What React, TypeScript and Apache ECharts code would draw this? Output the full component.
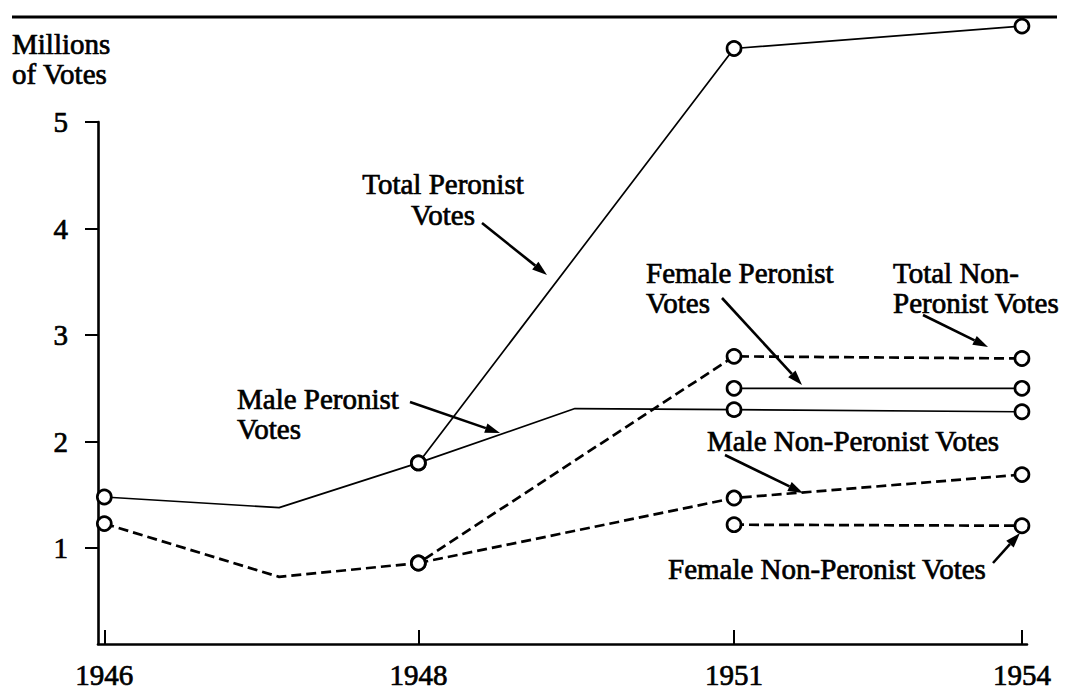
import React, { useEffect, useRef } from "react";
import * as echarts from "echarts";

// ---- data ----
const yearLabels = ["1946", "1948", "1951", "1954"];
// horizontal positions on the plotting scale (the original figure spaces the years unevenly)
const positionOf: Record<string, number> = {
  "1946": 0.02,
  "1947": 0.575,
  "1948": 1.017,
  "1949": 1.514,
  "1951": 2.019,
  "1954": 2.933,
};
const yTicks = [1, 2, 3, 4, 5];

const totalPeronistYears = ["1948", "1951", "1954"];
const totalPeronist = [1.8, 5.69, 5.9];

const malePeronistYears = ["1946", "1947", "1948", "1949", "1951", "1954"];
const malePeronist = [1.48, 1.38, 1.8, 2.31, 2.3, 2.28];

const femalePeronistYears = ["1951", "1954"];
const femalePeronist = [2.5, 2.5];

const totalNonPeronistYears = ["1946", "1947", "1948", "1951", "1954"];
const totalNonPeronist = [1.23, 0.73, 0.86, 2.8, 2.78];

const maleNonPeronistYears = ["1948", "1951", "1954"];
const maleNonPeronist = [0.86, 1.47, 1.69];

const femaleNonPeronistYears = ["1951", "1954"];
const femaleNonPeronist = [1.22, 1.21];

const FONT = '"Liberation Serif", "Times New Roman", serif';
const FS = 29;
const INK = "#000";

function buildData(years: string[], values: number[]) {
  return years.map((yr, i) => {
    const marked = yearLabels.indexOf(yr) >= 0;
    return {
      value: [positionOf[yr], values[i]],
      symbol: marked ? "circle" : "none",
    };
  });
}

function lineSeries(name: string, years: string[], values: number[], dashed: boolean) {
  return {
    name,
    type: "line",
    data: buildData(years, values),
    clip: false,
    symbolSize: 14,
    showAllSymbol: true,
    lineStyle: {
      color: INK,
      width: dashed ? 2.7 : 1.7,
      type: dashed ? [10, 5] : "solid",
    },
    itemStyle: { color: "#fff", borderColor: INK, borderWidth: 2.7 },
    emphasis: { disabled: true },
    z: 3,
  };
}

function textEl(text: string, x: number, baseline: number, align: string, lineHeight = 30) {
  return {
    type: "text",
    z: 5,
    style: {
      text,
      x,
      y: baseline - 24,
      fontSize: FS,
      fontFamily: FONT,
      fill: INK,
      stroke: INK,
      lineWidth: 0.7,
      align,
      verticalAlign: "top",
      lineHeight,
    },
  };
}

function arrowEl(x1: number, y1: number, x2: number, y2: number) {
  const a = Math.atan2(y2 - y1, x2 - x1);
  const L = 15;
  const W = 5;
  const c = Math.cos(a);
  const s = Math.sin(a);
  const bx = x2 - L * c;
  const by = y2 - L * s;
  return {
    type: "group",
    z: 5,
    children: [
      {
        type: "line",
        shape: { x1, y1, x2: bx, y2: by },
        style: { stroke: INK, lineWidth: 2.6 },
      },
      {
        type: "polygon",
        shape: {
          points: [
            [x2, y2],
            [bx - W * s, by + W * c],
            [bx + W * s, by - W * c],
          ],
        },
        style: { fill: INK },
      },
    ],
  };
}

export default function App() {
  const ref = useRef<HTMLDivElement>(null);
  useEffect(() => {
    if (!ref.current) return;
    const chart = echarts.init(ref.current, null, { renderer: "svg" });
    const xTickValues = yearLabels.map((y) => positionOf[y]);
    const labelStyle = {
      fontSize: FS,
      fontFamily: FONT,
      color: INK,
      textBorderColor: INK,
      textBorderWidth: 0.7,
    };
    chart.setOption({
      animation: false,
      backgroundColor: "#fff",
      grid: { left: 98, right: 38, top: 122, bottom: 56 },
      xAxis: {
        type: "value",
        min: 0,
        max: 2.949,
        splitLine: { show: false },
        axisLine: { show: true, lineStyle: { color: INK, width: 2.6 } },
        axisTick: {
          show: true,
          inside: true,
          length: 14,
          customValues: xTickValues,
          lineStyle: { color: INK, width: 2 },
        },
        axisLabel: {
          customValues: xTickValues,
          formatter: (v: number) => {
            const i = xTickValues.findIndex((t) => Math.abs(t - v) < 1e-6);
            return i >= 0 ? yearLabels[i] : "";
          },
          ...labelStyle,
          margin: 16,
        },
      },
      yAxis: {
        type: "value",
        min: 0.1,
        max: 5,
        splitLine: { show: false },
        axisLine: { show: true, lineStyle: { color: INK, width: 2.6 } },
        axisTick: {
          show: true,
          inside: false,
          length: 13,
          customValues: yTicks,
          lineStyle: { color: INK, width: 2 },
        },
        axisLabel: {
          customValues: yTicks,
          ...labelStyle,
          margin: 30,
        },
      },
      series: [
        lineSeries("Total Peronist Votes", totalPeronistYears, totalPeronist, false),
        lineSeries("Male Peronist Votes", malePeronistYears, malePeronist, false),
        lineSeries("Female Peronist Votes", femalePeronistYears, femalePeronist, false),
        lineSeries("Total Non-Peronist Votes", totalNonPeronistYears, totalNonPeronist, true),
        lineSeries("Male Non-Peronist Votes", maleNonPeronistYears, maleNonPeronist, true),
        lineSeries("Female Non-Peronist Votes", femaleNonPeronistYears, femaleNonPeronist, true),
      ],
      graphic: [
        {
          type: "line",
          z: 0,
          shape: { x1: 12, y1: 17, x2: 1057, y2: 17 },
          style: { stroke: INK, lineWidth: 3 },
        },
        textEl("Millions\nof Votes", 12, 53, "left", 30),
        textEl("Total Peronist\nVotes", 443, 192, "center", 31),
        arrowEl(482, 223, 547, 275),
        textEl("Female Peronist\nVotes", 646, 282, "left", 30),
        arrowEl(722, 298, 802, 385),
        textEl("Total Non-\nPeronist Votes", 893, 282, "left", 30),
        arrowEl(923, 315, 988, 347),
        textEl("Male Peronist\nVotes", 237, 408, "left", 30),
        arrowEl(410, 402, 500, 433),
        textEl("Male Non-Peronist Votes", 707, 450, "left", 30),
        arrowEl(725, 455, 803, 493),
        textEl("Female Non-Peronist Votes", 668, 578, "left", 30),
        arrowEl(993, 563, 1020, 533),
      ],
    });
    return () => chart.dispose();
  }, []);
  return (
    <div
      ref={ref}
      style={{ position: "fixed", left: 0, top: 0, width: 1065, height: 700, background: "#fff" }}
    />
  );
}
